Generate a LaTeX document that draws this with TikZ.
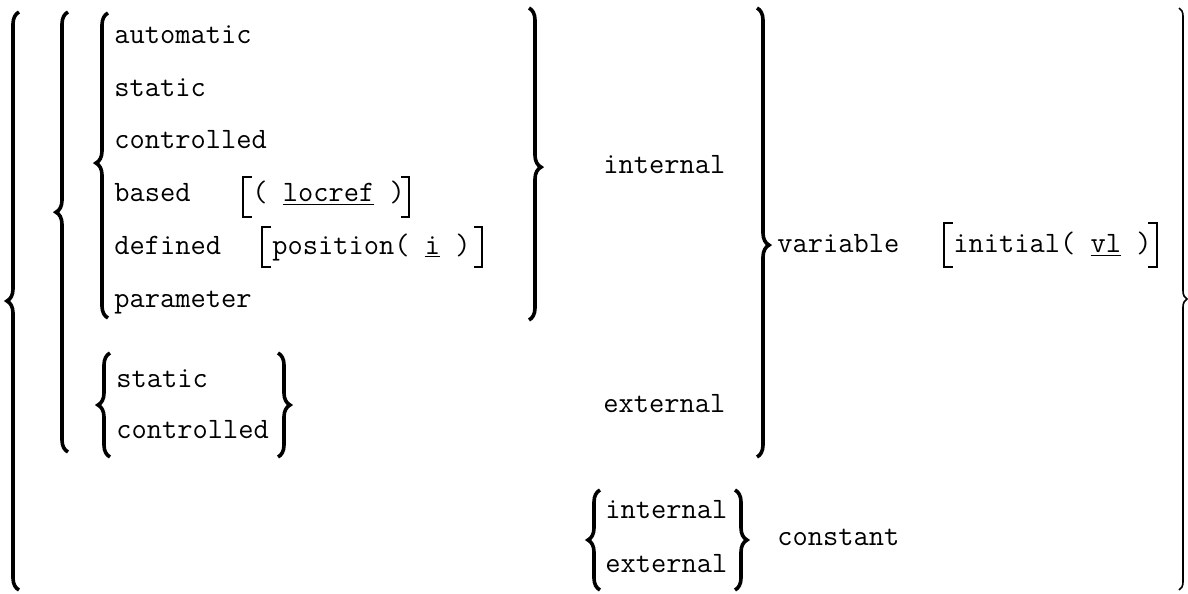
\documentclass[tikz,border=0pt]{standalone}
\usepackage{fontspec}
\usetikzlibrary{decorations.pathreplacing}
\begin{document}
\begin{tikzpicture}[x=0.5pt,y=-0.5pt,
  txt/.style={anchor=base west, inner sep=0pt, font=\fontsize{14.8}{17}\selectfont\ttfamily},
  brc/.style={decorate, line width=1.8pt, decoration={brace, amplitude=6pt, aspect=#1}},
  brc/.default=0.5,
  thinbrc/.style={decorate, line width=0.8pt, decoration={brace, amplitude=4pt, aspect=0.5}},
  bkt/.style={line width=1.3pt}
]
\fill[white] (0,0) rectangle (1188,594);
\useasboundingbox (0,0) rectangle (1188,594);

% ---- left braces (drawn bottom to top) ----
\draw[brc=0.5]   (19,590) -- (19,12);     % outer
\draw[brc=0.545] (68,452) -- (68,12);     % middle
\draw[brc=0.508] (108,318) -- (108,13);   % storage classes
\draw[brc=0.5]   (110,457) -- (110,353);  % static/controlled
\draw[brc=0.5]   (600,590) -- (600,490);  % internal/external (constant)

% ---- right braces (drawn top to bottom) ----
\draw[brc=0.51]  (529,8) -- (529,320);
\draw[brc=0.5]   (278,353) -- (278,457);
\draw[brc=0.528] (757,8) -- (757,457);
\draw[brc=0.5]   (735,490) -- (735,590);
\draw[thinbrc]   (1179,8) -- (1179,590);

% ---- storage class column ----
\node[txt] (auto)  at (114,43)  {automatic};
\node[txt] (stat)  at (114,96)  {static};
\node[txt] (ctrl)  at (114,148) {controlled};
\node[txt] (based) at (114,201) {based};
\node[txt] (locr)  at (252,201) {( \underline{locref} )};
\node[txt] (defd)  at (114,254) {defined};
\node[txt] (posn)  at (272,254) {position( \underline{i} )};
\node[txt] (parm)  at (114,307) {parameter};

\node[txt] (stat2) at (116,387) {static};
\node[txt] (ctrl2) at (116,438) {controlled};

\node[txt] (int1)  at (603,173) {internal};
\node[txt] (ext1)  at (603,412) {external};

\node[txt] (var)   at (777,252) {variable};
\node[txt] (init)  at (953,252) {initial( \underline{vl} )};

\node[txt] (int2)  at (605,518) {internal};
\node[txt] (ext2)  at (605,572) {external};
\node[txt] (const) at (777,545) {constant};

% ---- optional brackets ----
\draw[bkt] (252,177) -- (243,177) -- (243,217) -- (252,217);
\draw[bkt] (401,177) -- (409,177) -- (409,217) -- (401,217);
\draw[bkt] (271,227) -- (262,227) -- (262,267) -- (271,267);
\draw[bkt] (474,227) -- (482,227) -- (482,267) -- (474,267);
\draw[bkt] (953,223) -- (944,223) -- (944,267) -- (953,267);
\draw[bkt] (1148,223) -- (1157,223) -- (1157,267) -- (1148,267);
\end{tikzpicture}
\end{document}
